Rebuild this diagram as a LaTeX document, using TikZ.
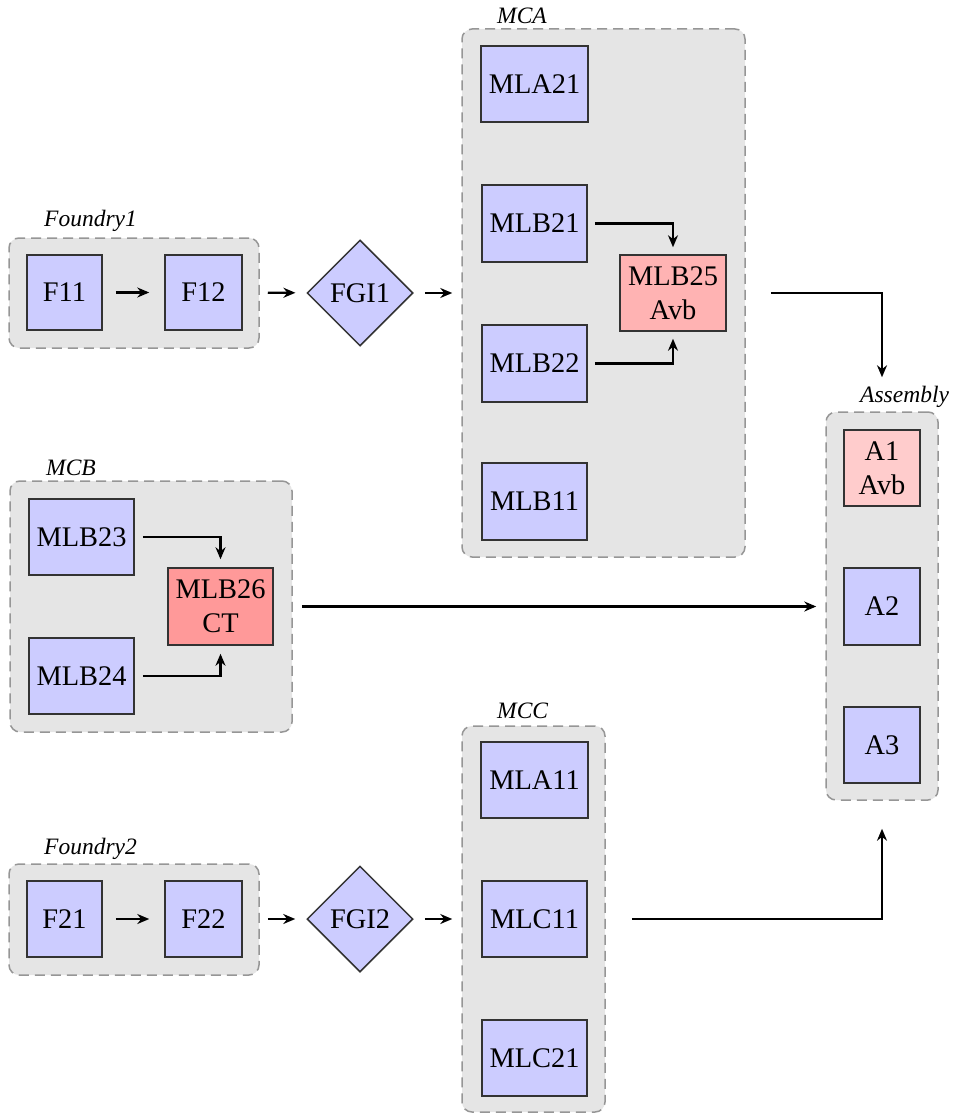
\documentclass[tikz,border=0pt]{standalone}
\usepackage{fontspec}
\setmainfont{Liberation Serif}
\usetikzlibrary{shapes.geometric,arrows.meta}
\definecolor{nodeblue}{RGB}{204,204,255}
\definecolor{pinkA}{RGB}{255,179,179}
\definecolor{pinkB}{RGB}{255,204,204}
\definecolor{pinkC}{RGB}{255,153,153}
\definecolor{groupfill}{RGB}{229,229,229}
\definecolor{groupline}{RGB}{150,150,150}
\tikzset{
  grp/.style={draw=groupline, fill=groupfill, dash pattern=on 10pt off 6pt, line width=1.5pt, rounded corners=10pt, inner sep=0pt},
  blk/.style={draw=black!80, fill=nodeblue, line width=1.5pt, inner sep=0pt, align=center, font=\fontsize{28.4}{34}\selectfont},
  dia/.style={blk, shape=diamond, aspect=1, minimum width=106pt, minimum height=106pt},
  lbl/.style={font=\fontsize{23.5}{26}\selectfont\itshape, inner sep=0pt, anchor=west},
  arr/.style={-{Stealth[length=12pt,width=10pt]}, line width=2.4pt},
}
\begin{document}
\begin{tikzpicture}[x=1pt,y=-1pt]
\useasboundingbox (0,0) rectangle (960,1113);
% groups
\node[grp, minimum width=250pt, minimum height=110pt] (G1) at (134,293) {};
\node[grp, minimum width=283pt, minimum height=528pt] (MCA) at (603.5,293) {};
\node[grp, minimum width=282pt, minimum height=251pt] (MCB) at (151,606.5) {};
\node[grp, minimum width=112pt, minimum height=388pt] (ASM) at (882,606) {};
\node[grp, minimum width=143pt, minimum height=386pt] (MCC) at (533.5,919) {};
\node[grp, minimum width=250pt, minimum height=111pt] (G2) at (134,919.5) {};
% labels
\node[lbl] (LG1) at (44,221) {Foundry1};
\node[lbl] (LMCA) at (497,16) {MCA};
\node[lbl] (LMCB) at (46,468) {MCB};
\node[lbl] (LASM) at (860,397) {Assembly};
\node[lbl] (LMCC) at (497,711) {MCC};
\node[lbl] (LG2) at (44,849) {Foundry2};
% Foundry1 row
\node[blk, minimum width=75pt, minimum height=75pt] (F11) at (64.5,292.5) {F11};
\node[blk, minimum width=77pt, minimum height=75pt] (F12) at (203.5,292.5) {F12};
\node[dia] (FGI1) at (360,293) {FGI1};
% MCA
\node[blk, minimum width=107pt, minimum height=76pt] (MLA21) at (534.5,84) {MLA21};
\node[blk, minimum width=105pt, minimum height=77pt] (MLB21) at (534.5,223.5) {MLB21};
\node[blk, minimum width=105pt, minimum height=77pt] (MLB22) at (534.5,363.5) {MLB22};
\node[blk, minimum width=105pt, minimum height=77pt] (MLB11) at (534.5,501.5) {MLB11};
\node[blk, fill=pinkA, minimum width=106pt, minimum height=76pt] (MLB25) at (673,293) {MLB25\\Avb};
% MCB
\node[blk, minimum width=105pt, minimum height=76pt] (MLB23) at (81.5,537) {MLB23};
\node[blk, minimum width=105pt, minimum height=76pt] (MLB24) at (81.5,676) {MLB24};
\node[blk, fill=pinkC, minimum width=105pt, minimum height=77pt] (MLB26) at (220.5,606.5) {MLB26\\CT};
% Assembly
\node[blk, fill=pinkB, minimum width=76pt, minimum height=76pt] (A1) at (882,468) {A1\\Avb};
\node[blk, minimum width=76pt, minimum height=77pt] (A2) at (882,606.5) {A2};
\node[blk, minimum width=76pt, minimum height=76pt] (A3) at (882,745) {A3};
% MCC
\node[blk, minimum width=107pt, minimum height=76pt] (MLA11) at (534.5,780) {MLA11};
\node[blk, minimum width=105pt, minimum height=76pt] (MLC11) at (534.5,919) {MLC11};
\node[blk, minimum width=105pt, minimum height=76pt] (MLC21) at (534.5,1058) {MLC21};
% Foundry2 row
\node[blk, minimum width=75pt, minimum height=76pt] (F21) at (64.5,919) {F21};
\node[blk, minimum width=77pt, minimum height=76pt] (F22) at (203.5,919) {F22};
\node[dia] (FGI2) at (360,919) {FGI2};
% arrows
\draw[arr, shorten <=13pt, shorten >=15pt] (F11) -- (F12);
\draw[arr, shorten <=25pt, shorten >=11pt] (F12) -- (FGI1);
\draw[arr, shorten <=11pt, shorten >=9pt] (FGI1) -- (MCA.west |- FGI1);
\draw[arr, shorten <=13pt, shorten >=15pt] (F21) -- (F22);
\draw[arr, shorten <=25pt, shorten >=11pt] (F22) -- (FGI2);
\draw[arr, shorten <=11pt, shorten >=9pt] (FGI2) -- (MCC.west |- FGI2);
\draw[arr, shorten <=7pt, shorten >=7pt] (MLB21.east) -| (MLB25.north);
\draw[arr, shorten <=7pt, shorten >=7pt] (MLB22.east) -| (MLB25.south);
\draw[arr, shorten <=8pt, shorten >=8pt] (MLB23.east) -| (MLB26.north);
\draw[arr, shorten <=8pt, shorten >=8pt] (MLB24.east) -| (MLB26.south);
\draw[arr, shorten <=25pt, shorten >=34pt] (MCA.east) -| (ASM.north);
\draw[arr, shorten <=9pt, shorten >=9pt] (MCB.east) -- (ASM.west |- MCB.east);
\draw[arr, shorten <=26pt, shorten >=28pt] (MCC.east) -| (ASM.south);
\end{tikzpicture}
\end{document}
